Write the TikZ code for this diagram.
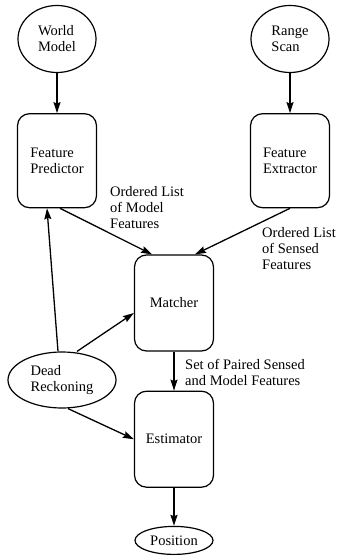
\documentclass[tikz,border=0pt]{standalone}
\usepackage{fontspec}
\setmainfont{Liberation Serif}
\usetikzlibrary{arrows.meta,positioning,shapes.geometric}

\begin{document}
\begin{tikzpicture}[x=1pt, y=-1pt, node distance=40pt,
    box/.style={draw, line width=1.2pt, rounded corners=12pt, align=left, minimum width=79pt, minimum height=94pt, inner sep=0pt, font=\fontsize{14.5}{16}\selectfont},
    src/.style={draw, ellipse, line width=1.2pt, align=left, minimum width=78pt, minimum height=67pt, inner sep=0pt, font=\fontsize{14.5}{16}\selectfont},
    lbl/.style={anchor=north west, align=left, inner sep=0pt, font=\fontsize{14.5}{16}\selectfont},
    arr/.style={-{Stealth[length=11pt, width=7pt, inset=1.5pt]}, line width=1.3pt}]
    \useasboundingbox (0,0) rectangle (340,556);
    \node[src] (world) at (57,39) {World\\Model};
    \node[box, below=of world] (pred) {Feature\\Predictor};
    \node[src] (scan) at (290,39) {Range\\Scan};
    \node[box, below=of scan] (extr) {Feature\\Extractor};
    \node[box, minimum height=96pt] (match) at (174,303) {Matcher};
    \node[box, minimum height=96pt, below=39pt of match] (est) {Estimator};
    \node[src, minimum height=28pt, below=38pt of est] (pos) {Position};
    \node[src, minimum width=108pt, minimum height=56pt] (dead) at (62,380) {Dead\\Reckoning};
    \node[lbl] (lmodel) at (110,186) {Ordered List\\of Model\\Features};
    \node[lbl] (lsensed) at (262,227) {Ordered List\\of Sensed\\Features};
    \node[lbl] (lpaired) at (185,359) {Set of Paired Sensed\\and Model Features};
    \draw[arr] (world) -- (pred);
    \draw[arr] (scan) -- (extr);
    \draw[arr] ([xshift=3pt]pred.south) -- ([xshift=-22pt]match.north);
    \draw[arr] (extr.south) -- ([xshift=21pt]match.north);
    \draw[arr] ([xshift=-4pt]dead.north) -- ([xshift=-10pt]pred.south);
    \draw[arr] ([xshift=15pt]dead.north) -- ([yshift=-10pt]match.west);
    \draw[arr] ([xshift=6pt]dead.south) -- (est.west);
    \draw[arr] (match) -- (est);
    \draw[arr] (est) -- (pos);
\end{tikzpicture}
\end{document}
